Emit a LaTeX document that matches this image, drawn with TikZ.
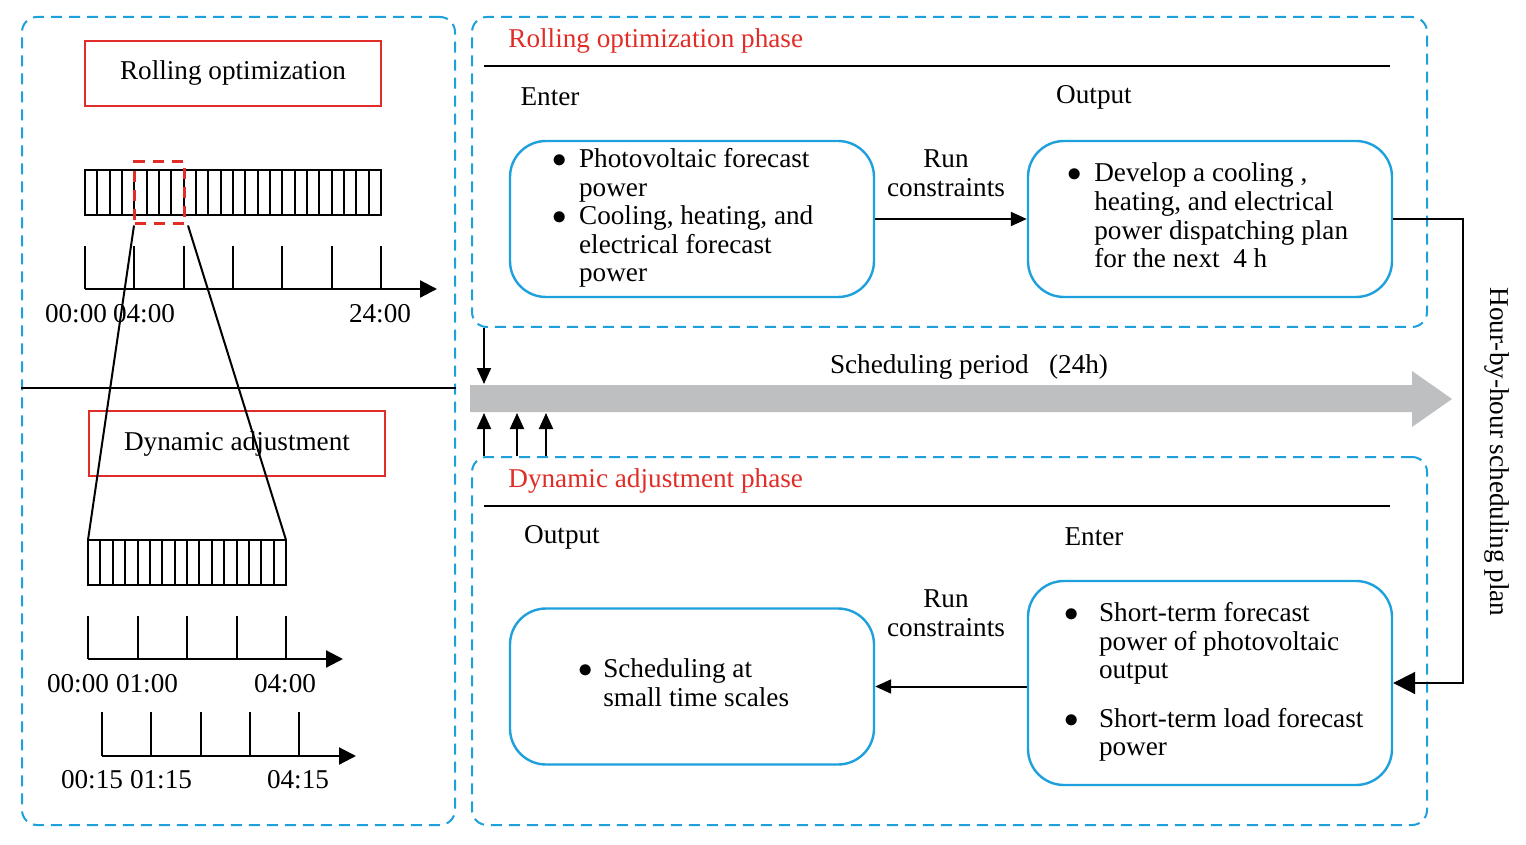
\documentclass[tikz,border=0pt]{standalone}
\usepackage{fontspec}
\setmainfont{Liberation Serif}
\usetikzlibrary{arrows.meta}
\definecolor{cyanb}{RGB}{30,160,220}
\definecolor{redb}{RGB}{225,45,40}
\definecolor{grayb}{RGB}{190,191,193}
\newcommand{\bul}{$\bullet$}
\begin{document}
\begin{tikzpicture}[x=0.5pt,y=-0.5pt, font=\fontsize{13.6}{14.3}\selectfont,
  panel/.style={draw=cyanb, line width=1pt, dash pattern=on 5.5pt off 3.5pt, rounded corners=7.5pt, inner sep=0pt},
  redbox/.style={draw=redb, line width=1pt, minimum width=148pt, minimum height=32.5pt, inner sep=0pt},
  rbox/.style={draw=cyanb, line width=1.2pt, rounded corners=18pt, minimum width=182pt, minimum height=78pt, align=left, inner sep=0pt},
  conn/.style={line width=1pt, -{Triangle[length=8pt,width=7pt]}},
  bigconn/.style={line width=1pt, -{Triangle[length=11pt,width=11pt]}},
  axisarr/.style={line width=1.1pt, -{Triangle[length=8.5pt,width=8.5pt]}},
  thin/.style={line width=1pt},
  lbl/.style={inner sep=0pt},
  phase/.style={text=redb, inner sep=0pt, anchor=west}
]
\useasboundingbox (0,0) rectangle (1526,845);

% panels
\node[panel, minimum width=216.5pt, minimum height=404pt] (pl) at (238.5,421) {};
\node[panel, minimum width=477.5pt, minimum height=155pt] (p1) at (949.5,172) {};
\node[panel, minimum width=477.5pt, minimum height=184pt] (p2) at (949.5,641) {};

% left separator
\draw[thin] (pl.west |- 0,388) -- (pl.east |- 0,388);

% left: red boxes
\node[redbox] (ro) at (233,73.5) {Rolling optimization};
\node[redbox] (da) at (237,443.5) {Dynamic adjustment};

% top grid (24 cells)
\draw[thin] (85,170) rectangle (381,215);
\foreach \i in {1,...,23} \draw[thin] (85+\i*12.333,170) -- (85+\i*12.333,215);
% top axis
\coordinate (ax1s) at (85,289);
\coordinate (ax1e) at (437,289);
\draw[axisarr] (ax1s) -- (ax1e);
\foreach \i in {0,...,6} \draw[thin] (85+\i*49.333,246) -- (85+\i*49.333,289);
\node[lbl] (t00) at (76,314) {00:00};
\node[lbl] (t04) at (144,314) {04:00};
\node[lbl] (t24) at (380,314) {24:00};

% bottom grid (16 cells)
\draw[thin] (88,540) rectangle (286,585);
\foreach \i in {1,...,15} \draw[thin] (88+\i*12.375,540) -- (88+\i*12.375,585);

% zoom lines
\node[draw=redb, line width=1.5pt, dash pattern=on 5.5pt off 4pt, minimum width=25pt, minimum height=31pt, inner sep=0pt] (sel) at (159.5,193) {};
\coordinate (zl) at (88,540);
\coordinate (zr) at (286,540);
\draw[thin] (sel.south west) ++(1,0) coordinate (sl) -- (zl);
\draw[thin] (sel.south east) ++(2,0) coordinate (sr) -- (zr);

% axis 2
\coordinate (ax2s) at (88,659);
\coordinate (ax2e) at (343,659);
\draw[axisarr] (ax2s) -- (ax2e);
\foreach \i in {0,...,4} \draw[thin] (88+\i*49.5,616) -- (88+\i*49.5,659);
\node[lbl] (u00) at (78,684) {00:00};
\node[lbl] (u01) at (147,684) {01:00};
\node[lbl] (u04) at (285,684) {04:00};

% axis 3
\coordinate (ax3s) at (102,756);
\coordinate (ax3e) at (356,756);
\draw[axisarr] (ax3s) -- (ax3e);
\foreach \i in {0,...,4} \draw[thin] (102+\i*49.25,712) -- (102+\i*49.25,756);
\node[lbl] (v00) at (92,780) {00:15};
\node[lbl] (v01) at (161,780) {01:15};
\node[lbl] (v04) at (298,780) {04:15};

% top-right panel
\node[phase] (rp) at (508,41) {Rolling optimization phase};
\draw[thin] (484,66) -- (1390,66);
\node[lbl] (en1) at (550,97) {Enter};
\node[lbl] (ou1) at (1094,97) {Output};
\node[rbox] (b1) at (692,219) {\begin{tabular}{@{}l@{\hspace{6pt}}l@{\hspace{9pt}}}\bul & Photovoltaic forecast\\ & power\\ \bul & Cooling, heating, and\\ & electrical forecast\\ & power\end{tabular}};
\node[rbox] (b2) at (1210,219) {\begin{tabular}{@{}l@{\hspace{6pt}}l@{\hspace{2pt}}}\bul & Develop a cooling ,\\ & heating, and electrical\\ & power dispatching plan\\ & for the next\enspace 4 h\end{tabular}};
\node[lbl, align=center] (rc1) at (946,173) {Run\\constraints};
\draw[conn] (b1.east) -- (b2.west);

% scheduling band
\fill[grayb] (470,385) -- (1412,385) -- (1412,371) -- (1452,399) -- (1412,427) -- (1412,412) -- (470,412) -- cycle;
\node[lbl] (sp) at (969,367) {Scheduling period\enspace\ (24h)};
\coordinate (bt1) at (484,384);
\coordinate (bb1) at (484,413);
\coordinate (bb2) at (517,413);
\coordinate (bb3) at (546,413);
\draw[conn] (p1.south -| bt1) -- (bt1);
\draw[conn] (p2.north -| bb1) -- (bb1);
\draw[conn] (p2.north -| bb2) -- (bb2);
\draw[conn] (p2.north -| bb3) -- (bb3);

% bottom-right panel
\node[phase] (dp) at (508,481) {Dynamic adjustment phase};
\draw[thin] (484,506) -- (1390,506);
\node[lbl] (ou2) at (562,537) {Output};
\node[lbl] (en2) at (1094,537) {Enter};
\node[rbox] (b3) at (692,686.5) {\begin{tabular}{@{}l@{\hspace{5pt}}l@{\hspace{8pt}}}\bul & Scheduling at\\ & small time scales\end{tabular}};
\node[rbox, minimum height=102pt] (b4) at (1210,683) {\begin{tabular}{@{\hspace{4pt}}l@{\hspace{10pt}}l@{}}\bul & Short-term forecast\\ & power of photovoltaic\\ & output\\[10pt] \bul & Short-term load forecast\\ & power\end{tabular}};
\node[lbl, align=center] (rc2) at (946,613) {Run\\constraints};
\draw[conn] (b4.west |- b3.east) -- (b3.east);

% hour-by-hour link
\coordinate (hk) at (1463,219);
\draw[bigconn] (b2.east) -- (hk) |- (b4.east);
\node[lbl, rotate=-90] (hh) at (1497,452) {Hour-by-hour scheduling plan};
\end{tikzpicture}
\end{document}
